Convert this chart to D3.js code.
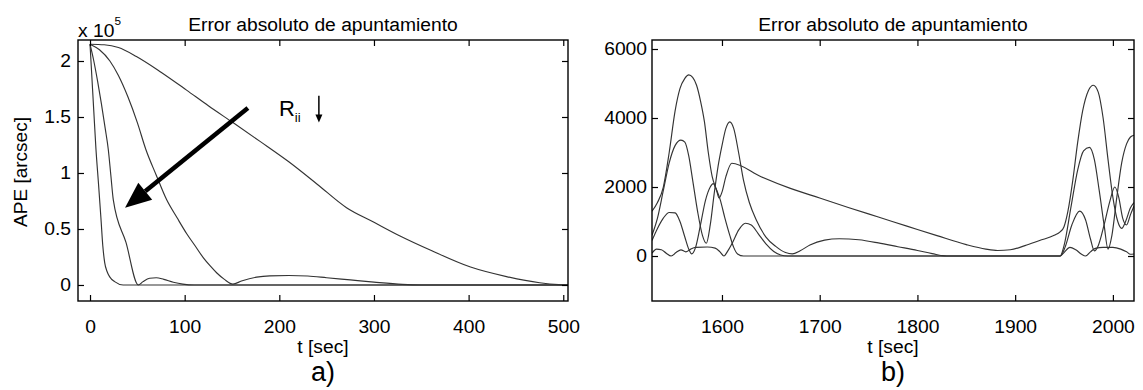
<!DOCTYPE html>
<html><head><meta charset="utf-8">
<script src="https://cdn.jsdelivr.net/npm/d3@7"></script>
<style>
body{margin:0;background:#fff}
text{font-family:"Liberation Sans",Arial,sans-serif;fill:#000}
</style>
</head><body>
<svg id="chart" width="1143" height="390"></svg>
<script>
// ---------- DATA ----------
const titleText = "Error absoluto de apuntamiento";
const xLabelText = "t [sec]";
const yLabelText = "APE [arcsec]";
const panelLabels = ["a)", "b)"];

// Left panel (values in units of 1e5 arcsec)
const leftXTicks = [0, 100, 200, 300, 400, 500];
const leftYTicks = [0, 0.5, 1, 1.5, 2];
const leftXDomain = [-12.7, 505];
const leftYDomain = [-0.143, 2.1875];
const leftA = [[0,2.15],[2,1.85],[4,1.55],[6.3,1.21],[9,0.9],[11.5,0.6],[13.5,0.35],[15.5,0.2],[18,0.12],[21,0.07],[26,0.03],[35,0],[505,0]];
const leftB = [[0,2.15],[4,2.0],[8,1.82],[12,1.62],[16,1.4],[19.3,1.21],[22,0.98],[24.6,0.76],[38,0.38],[51,0],[56,0.03],[63,0.06],[70,0.065],[78,0.05],[88,0.025],[98,0.008],[110,0],[505,0]];
const leftC = [[0,2.15],[10,2.1],[21,2.0],[30,1.87],[40,1.68],[50,1.45],[59,1.21],[70,0.98],[81,0.76],[92,0.6],[102,0.46],[111,0.35],[120,0.24],[127,0.17],[134,0.107],[142,0.05],[151,0.008],[160,0.035],[176,0.07],[190,0.082],[210,0.085],[230,0.08],[250,0.065],[275,0.045],[300,0.025],[330,0.005],[350,0],[505,0]];
const leftD = [[0,2.15],[15,2.145],[30,2.12],[49,2.04],[75,1.9],[102,1.74],[125,1.6],[151,1.45],[180,1.28],[210,1.1],[240,0.9],[271,0.69],[300,0.56],[327,0.44],[360,0.31],[402,0.16],[440,0.075],[475,0.02],[495,0.003],[505,0]];
// annotation: big arrow (start -> tip), R_ii label, small down arrow
const bigArrow = [[166.8,1.58],[37,0.69]];
const rLabelPos = [199.6,1.51];
const smallArrow = [[241.8,1.69],[241.8,1.45]];

// Right panel (arcsec)
const rightXTicks = [1600, 1700, 1800, 1900, 2000];
const rightYTicks = [0, 2000, 4000, 6000];
const rightXDomain = [1528.4, 2021.6];
const rightYDomain = [-1304, 6261];
const rightP = [[1528.4,1300],[1534,1550],[1540,2000],[1546,3000],[1552,4200],[1557,4850],[1562,5150],[1566,5250],[1570,5180],[1574,4950],[1578,4500],[1582,3900],[1586,3000],[1590,2300],[1594,1950],[1598,1650],[1603,1100],[1608,600],[1612,250],[1616,60],[1622,0],[1946,0],[1951,250],[1958,900],[1966,1300],[1972,1050],[1977,500],[1981,150],[1985,300],[1991,900],[1997,1600],[2002,2000],[2006,1700],[2010,1100],[2014,900],[2018,1200],[2021.6,1450]];
const rightQ = [[1528.4,600],[1534,1100],[1540,1900],[1546,2700],[1552,3200],[1558,3360],[1562,3300],[1566,2900],[1570,2200],[1575,1300],[1580,600],[1584,370],[1588,900],[1592,1800],[1596,2600],[1600,3200],[1604,3700],[1608,3890],[1612,3700],[1617,3000],[1622,2200],[1628,1550],[1635,1050],[1645,550],[1655,280],[1665,100],[1672,60],[1680,150],[1690,320],[1705,460],[1720,500],[1740,470],[1760,380],[1780,270],[1800,160],[1815,70],[1830,0],[1946,0],[1950,300],[1957,1400],[1964,2500],[1970,3050],[1976,3150],[1981,2800],[1986,1900],[1991,900],[1995,200],[1999,600],[2004,1700],[2009,2700],[2014,3250],[2018,3450],[2021.6,3500]];
const rightL = [[1528.4,450],[1534,800],[1540,1100],[1546,1260],[1552,1250],[1557,1000],[1562,550],[1566,200],[1569,60],[1573,250],[1578,900],[1583,1600],[1588,2000],[1591,2100],[1594,1950],[1597,1680],[1600,1850],[1604,2300],[1610,2690],[1640,2300],[1670,1960],[1700,1680],[1730,1400],[1760,1130],[1790,860],[1820,590],[1850,330],[1870,200],[1882,160],[1895,180],[1910,300],[1925,450],[1940,600],[1946,700],[1950,850],[1954,1300],[1959,2200],[1964,3300],[1969,4200],[1975,4800],[1980,4950],[1985,4750],[1990,4000],[1995,2800],[2000,1700],[2005,1000],[2009,800],[2013,1000],[2018,1400],[2021.6,1550]];
const rightS = [[1528.4,80],[1533,200],[1538,180],[1543,80],[1548,0],[1553,100],[1558,180],[1563,120],[1568,200],[1573,250],[1585,260],[1593,230],[1598,120],[1602,0],[1606,150],[1611,400],[1617,750],[1624,950],[1630,900],[1637,650],[1645,350],[1653,130],[1660,30],[1667,0],[1946,0],[1950,100],[1956,250],[1962,180],[1968,50],[1972,0],[1977,120],[1982,220],[1990,250],[2000,250],[2008,200],[2014,120],[2018,50],[2021.6,60]];

// ---------- DRAWING ----------
const svg = d3.select("#chart");
const FONT = 18, SX = 1.07, LINE = "#333";

function stretch(sel){ // horizontal stretch of text around its anchor
  sel.each(function(){
    const t = d3.select(this);
    const x = +t.attr("x") || 0;
    t.attr("transform", `translate(${x*(1-SX)},0) scale(${SX},1)`);
  });
}

function panel(opt){
  const {x0,x1,y0,y1,xDom,yDom,xTicks,yTicks,yFmt,series,id,yPad} = opt;
  const x = d3.scaleLinear(xDom,[x0,x1]);
  const y = d3.scaleLinear(yDom,[y1,y0]);
  const g = svg.append("g");
  g.append("clipPath").attr("id",id).append("rect")
    .attr("x",x0).attr("y",y0).attr("width",x1-x0).attr("height",y1-y0);

  const line = d3.line().x(d=>x(d[0])).y(d=>y(d[1])).curve(d3.curveMonotoneX);
  g.append("g").attr("clip-path",`url(#${id})`).selectAll("path").data(series).join("path")
    .attr("d",line).attr("fill","none").attr("stroke",LINE).attr("stroke-width",1.15);

  const TS = 6;
  const bottom = g.append("g").attr("transform",`translate(0,${y1})`)
    .call(d3.axisBottom(x).tickValues(xTicks).tickSize(-TS).tickPadding(19).tickFormat(d3.format("d")));
  const top = g.append("g").attr("transform",`translate(0,${y0})`)
    .call(d3.axisTop(x).tickValues(xTicks).tickSize(-TS).tickFormat(""));
  const left = g.append("g").attr("transform",`translate(${x0},0)`)
    .call(d3.axisLeft(y).tickValues(yTicks).tickSize(-TS).tickPadding(yPad).tickFormat(yFmt));
  const right = g.append("g").attr("transform",`translate(${x1},0)`)
    .call(d3.axisRight(y).tickValues(yTicks).tickSize(-TS).tickFormat(""));
  [bottom,top,left,right].forEach(a=>{
    a.select(".domain").remove();
    a.selectAll(".tick line").attr("stroke","#000").attr("stroke-width",1.2);
    a.selectAll("text").attr("font-size",FONT).attr("font-family","Liberation Sans, Arial, sans-serif").attr("fill","#000");
  });
  bottom.selectAll("text").attr("dy","0.71em");
  left.selectAll("text").call(stretch);
  bottom.selectAll("text").call(stretch);
  g.append("rect").attr("x",x0).attr("y",y0).attr("width",x1-x0).attr("height",y1-y0)
    .attr("fill","none").attr("stroke","#000").attr("stroke-width",1.4);

  const cx = (x0+x1)/2;
  g.append("text").attr("x",cx).attr("y",31).attr("text-anchor","middle").attr("font-size",FONT).text(titleText).call(stretch);
  g.append("text").attr("x",cx).attr("y",353).attr("text-anchor","middle").attr("font-size",FONT).text(xLabelText).call(stretch);
  g.append("text").attr("x",cx).attr("y",381).attr("text-anchor","middle").attr("font-size",27).text(opt.label);
  return {x,y,g};
}

const L = panel({id:"clipL",x0:78,x1:568,y0:40,y1:301,xDom:leftXDomain,yDom:leftYDomain,yPad:7,
  xTicks:leftXTicks,yTicks:leftYTicks,yFmt:d=>String(d),series:[leftA,leftB,leftC,leftD],label:panelLabels[0]});
const R = panel({id:"clipR",x0:652,x1:1134,y0:40,y1:301,xDom:rightXDomain,yDom:rightYDomain,yPad:5,
  xTicks:rightXTicks,yTicks:rightYTicks,yFmt:d3.format("d"),series:[rightP,rightQ,rightL,rightS],label:panelLabels[1]});

// y label
svg.append("text").attr("transform","translate(27,172) rotate(-90)").attr("text-anchor","middle")
  .attr("font-size",19).text(yLabelText);
// exponent
const ex = svg.append("text").attr("x",78).attr("y",37).attr("font-size",FONT);
ex.append("tspan").text("x 10");
ex.append("tspan").attr("dy",-12).attr("font-size",11).text("5");
ex.call(stretch);

// big arrow
const ax0 = L.x(bigArrow[0][0]), ay0 = L.y(bigArrow[0][1]);
const ax1 = L.x(bigArrow[1][0]), ay1 = L.y(bigArrow[1][1]);
const ang = Math.atan2(ay1-ay0, ax1-ax0);
const HL = 26, HW = 11;
const bx = ax1 - HL*Math.cos(ang), by = ay1 - HL*Math.sin(ang);
svg.append("line").attr("x1",ax0).attr("y1",ay0).attr("x2",bx).attr("y2",by)
  .attr("stroke","#000").attr("stroke-width",4.5);
svg.append("polygon").attr("points",[
  [ax1,ay1],
  [bx + HW*Math.sin(ang), by - HW*Math.cos(ang)],
  [bx - HW*Math.sin(ang), by + HW*Math.cos(ang)]
].map(p=>p.join(",")).join(" ")).attr("fill","#000");

// R_ii label
const rl = svg.append("text").attr("x",L.x(rLabelPos[0])).attr("y",L.y(rLabelPos[1])).attr("font-size",22);
rl.append("tspan").text("R");
rl.append("tspan").attr("dy",6).attr("font-size",13).text("ii");
// small arrow
const sx = L.x(smallArrow[0][0]);
svg.append("line").attr("x1",sx).attr("x2",sx).attr("y1",L.y(smallArrow[0][1])).attr("y2",L.y(smallArrow[1][1])-6)
  .attr("stroke","#000").attr("stroke-width",1.5);
svg.append("polygon").attr("points",`${sx},${L.y(smallArrow[1][1])} ${sx-3.5},${L.y(smallArrow[1][1])-8} ${sx+3.5},${L.y(smallArrow[1][1])-8}`).attr("fill","#000");
</script>
</body></html>
